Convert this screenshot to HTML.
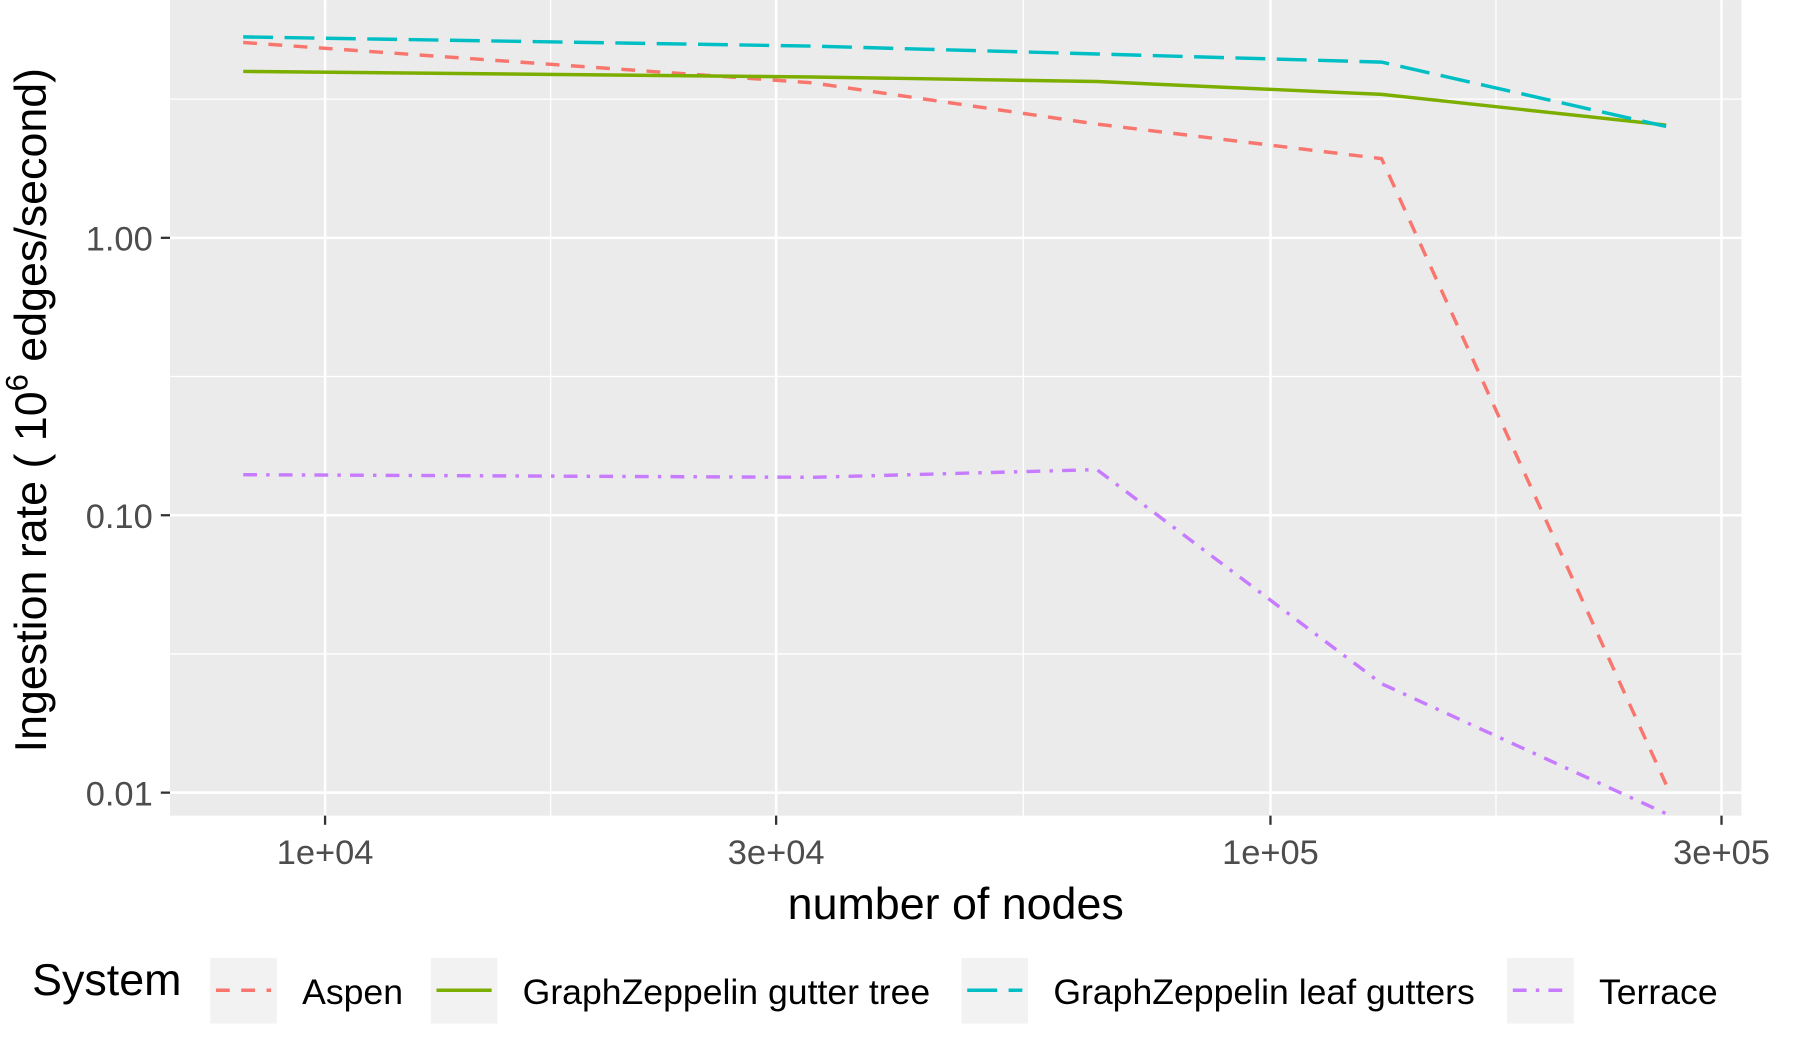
<!DOCTYPE html>
<html><head><meta charset="utf-8"><style>body{margin:0;background:#fff}svg{display:block;font-family:"Liberation Sans",sans-serif}</style></head>
<body>
<svg width="1800" height="1050" viewBox="0 0 1567 914">
<g id="plot"></g>
</svg>
<script>
const xs=[8192,32768,65536,131072,262144];
const aspen=[5.06,3.62,2.57,1.93,0.0107];
const gzTree=[3.98,3.80,3.66,3.29,2.55];
const gzLeaf=[5.3,4.91,4.6,4.3,2.52];
const terrace=[0.140,0.137,0.146,0.0247,0.0084];
const yTicks=[1,0.1,0.01];const yLabels=["1.00","0.10","0.01"];
const xTicks=[1e4,3e4,1e5,3e5];const xLabels=["1e+04","3e+04","1e+05","3e+05"];
const names=["Aspen","GraphZeppelin gutter tree","GraphZeppelin leaf gutters","Terrace"];
const NS="http://www.w3.org/2000/svg";
const X=v=>283+(Math.log10(v)-4)*823;
const Y=v=>207-Math.log10(v)*241.5;
const g=document.getElementById('plot');
function el(t,a,p){const e=document.createElementNS(NS,t);for(const k in a)e.setAttribute(k,a[k]);(p||g).appendChild(e);return e;}
const bg=el('rect',{x:148,y:0,width:1368,height:710,fill:'#ebebeb'});


[3.1623,0.31623,0.031623].forEach(v=>el('line',{x1:148,x2:1516,y1:Y(v),y2:Y(v),stroke:'#fff','stroke-width':1.1}));
[Math.sqrt(3e8),Math.sqrt(3e9),Math.sqrt(3e10)].forEach(v=>el('line',{y1:0,y2:710,x1:X(v),x2:X(v),stroke:'#fff','stroke-width':1.1}));
yTicks.forEach((v,i)=>{el('line',{x1:148,x2:1516,y1:Y(v),y2:Y(v),stroke:'#fff','stroke-width':2.2});
el('line',{x1:140,x2:148,y1:Y(v),y2:Y(v),stroke:'#333','stroke-width':2});
const t=el('text',{x:133,y:Y(v)+11,'text-anchor':'end','font-size':30,fill:'#4d4d4d'});t.textContent=yLabels[i];

});
xTicks.forEach((v,i)=>{el('line',{y1:0,y2:710,x1:X(v),x2:X(v),stroke:'#fff','stroke-width':2.2});
el('line',{y1:710,y2:718,x1:X(v),x2:X(v),stroke:'#333','stroke-width':2});
const t=el('text',{x:X(v),y:752,'text-anchor':'middle','font-size':30,fill:'#4d4d4d'});t.textContent=xLabels[i];

});
const series=[[aspen,'#f8766d','12 10'],[gzTree,'#7cae00',''],[gzLeaf,'#00bfc4','26 10'],[terrace,'#c77cff','12 8 3 8']];
series.forEach((s,i)=>{const p=el('polyline',{points:xs.map((x,j)=>X(x)+','+Y(s[0][j])).join(' '),fill:'none',stroke:s[1],'stroke-width':3,'stroke-dasharray':s[2]});

});
let t=el('text',{x:832,y:800,'text-anchor':'middle','font-size':39,fill:'#000'});t.textContent='number of nodes';


t=el('text',{transform:'translate(40,357) rotate(-90)','text-anchor':'middle','font-size':39,fill:'#000'});
t.innerHTML='Ingestion rate ( 10<tspan dy="-16" font-size="27">6</tspan><tspan dy="16"> edges/second)</tspan>';


t=el('text',{x:28,y:866,'font-size':39,fill:'#000'});t.textContent='System';


const kx=[183,375,837,1312];
names.forEach((n,i)=>{el('rect',{x:kx[i],y:834,width:58,height:57,fill:'#f2f2f2'});
el('line',{x1:kx[i]+5,x2:kx[i]+53,y1:862,y2:862,stroke:series[i][1],'stroke-width':3,'stroke-dasharray':series[i][2]});
const l=el('text',{x:kx[i]+80,y:874,'font-size':31,fill:'#000'});l.textContent=n;

});
</script>
</body></html>
